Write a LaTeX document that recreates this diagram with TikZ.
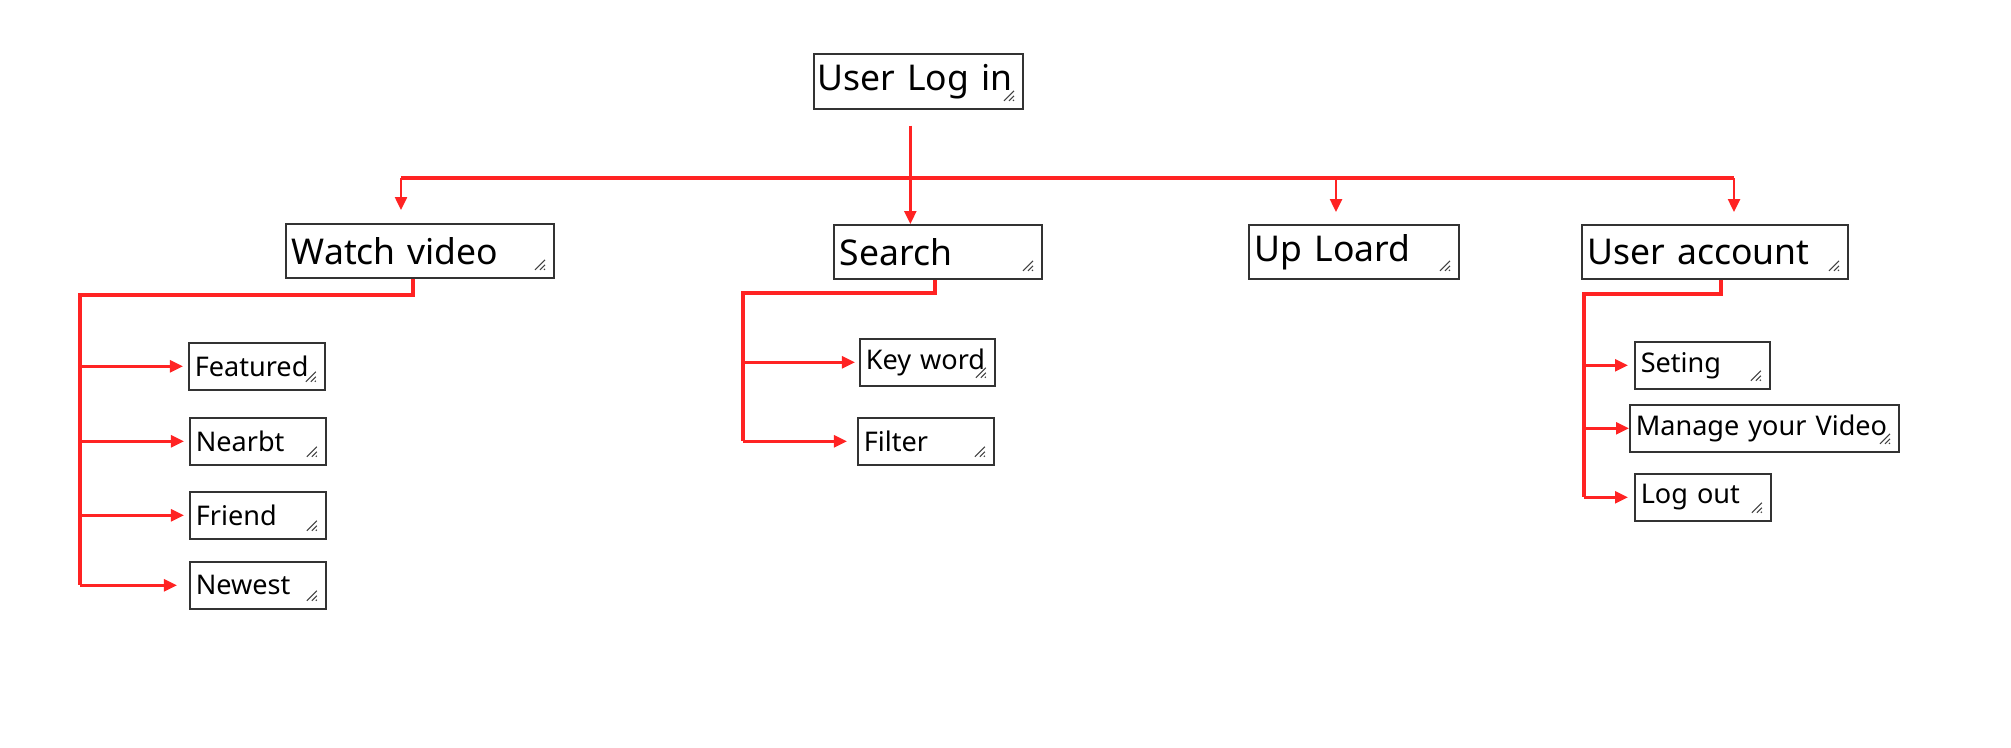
\documentclass[tikz,border=0pt]{standalone}
\usepackage{fontspec}
\setmainfont{Noto Sans}
\usetikzlibrary{arrows.meta, calc}
\definecolor{linkred}{RGB}{255,35,35}

\begin{document}
\begin{tikzpicture}[x=0.01cm, y=-0.01cm,
	nodes={draw=black!80, line width=0.45pt, anchor=north west,
		inner xsep=0.06cm, inner ysep=0pt, align=left},
	big/.style={font=\fontsize{10.1}{12}\selectfont, minimum height=0.54cm},
	small/.style={font=\fontsize{7.7}{9}\selectfont, minimum height=0.47cm},
	% resize mark in the lower right corner
	grip/.style={path picture={
		\draw[black!75, line width=0.3pt]
			($(path picture bounding box.south east)+(-19,-8)$) -- ++(10,-10)
			($(path picture bounding box.south east)+(-14,-8)$) -- ++(5,-5)
			($(path picture bounding box.south east)+(-10,-8)$) -- ++(1,-1);}},
	trunk/.style={draw=linkred, line width=1pt},
	arr/.style={draw=linkred, line width=0.7pt, -{Triangle[length=0.13cm, width=0.12cm]}}]
	\useasboundingbox (0,0) rectangle (2011,747);

	% top level
	\node[big, grip, text width=2.01cm, inner xsep=0.04cm, minimum height=0.55cm] (login) at (813,53) {\mbox{User Log in}};

	\node[big, grip, text width=2.56cm] (watch) at (285,223) {Watch video};
	\node[big, grip, text width=1.96cm] (search) at (833,224) {Search};
	\node[big, grip, text width=1.98cm] (upload) at (1248,224) {Up Loard};
	\node[big, grip, text width=2.54cm] (account) at (1581,224) {User account};

	% watch video items
	\node[small, grip, text width=1.24cm] (feat) at (188,342) {Featured};
	\node[small, grip, text width=1.24cm] (near) at (189,417) {Nearbt};
	\node[small, grip, text width=1.24cm] (friend) at (189,491) {Friend};
	\node[small, grip, text width=1.24cm] (newest) at (189,561) {Newest};

	% search items
	\node[small, grip, text width=1.23cm] (keyword) at (859,338) {Key word};
	\node[small, grip, text width=1.24cm] (filter) at (857,417) {Filter};

	% account items
	\node[small, grip, text width=1.23cm] (seting) at (1634,341) {Seting};
	\node[small, grip, text width=2.57cm] (manage) at (1629,404) {\mbox{Manage your Video}};
	\node[small, grip, text width=1.24cm] (logout) at (1634,473) {Log out};

	% main bus
	\coordinate (login-tail) at ($(login.south)+(-8,16)$);
	\coordinate (bus-w) at (401,178);
	\coordinate (bus-u) at (1336,178);
	\coordinate (bus-e) at (1734,178);
	\draw[trunk] (bus-w) -- (bus-e);
	\draw[arr] (login-tail) -- (login-tail |- search.north);
	\draw[arr, shorten >=0.13cm] (bus-w) -- (bus-w |- watch.north);
	\draw[arr, shorten >=0.12cm] (bus-u) -- (bus-u |- upload.north);
	\draw[arr, shorten >=0.12cm] (bus-e) -- (bus-e |- account.north);

	% watch video bracket
	\coordinate (watch-rail) at (80,295);
	\draw[trunk] ($(watch.south)+(-7,0)$) |- (watch-rail) -- (watch-rail |- newest.west);
	\draw[arr, shorten >=0.05cm] (watch-rail |- feat.west) -- (feat.west);
	\draw[arr, shorten >=0.05cm] (watch-rail |- near.west) -- (near.west);
	\draw[arr, shorten >=0.05cm] (watch-rail |- friend.west) -- (friend.west);
	\draw[arr, shorten >=0.12cm] (watch-rail |- newest.west) -- (newest.west);

	% search bracket
	\coordinate (search-rail) at (743,293);
	\draw[trunk] ($(search.south)+(-3,0)$) |- (search-rail) -- (search-rail |- filter.west);
	\draw[arr, shorten >=0.04cm] (search-rail |- keyword.west) -- (keyword.west);
	\draw[arr, shorten >=0.1cm] (search-rail |- filter.west) -- (filter.west);

	% account bracket
	\coordinate (account-rail) at (1584,294);
	\draw[trunk] ($(account.south)+(6,0)$) |- (account-rail) -- (account-rail |- logout.west);
	\draw[arr, shorten >=0.06cm] (account-rail |- seting.west) -- (seting.west);
	\draw[arr] (account-rail |- manage.west) -- (manage.west);
	\draw[arr, shorten >=0.06cm] (account-rail |- logout.west) -- (logout.west);

\end{tikzpicture}
\end{document}
